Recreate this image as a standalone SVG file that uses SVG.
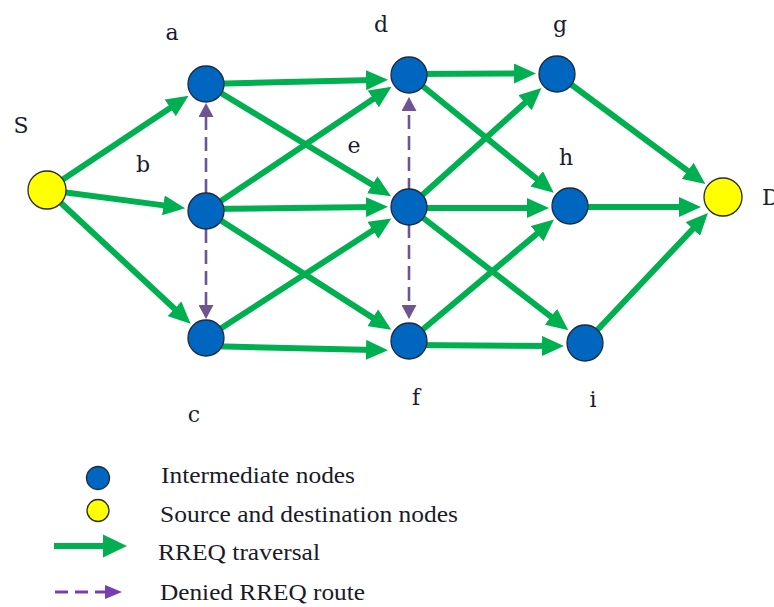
<svg xmlns="http://www.w3.org/2000/svg" width="774" height="607" viewBox="0 0 774 607">
<style>
.bg{fill:#ffffff}
.edge{stroke:#00b050;stroke-width:6;fill:none;marker-end:url(#ag)}
.deny{stroke:#6d5592;stroke-width:2.6;fill:none;stroke-dasharray:14 7;marker-end:url(#ap)}
.inter{fill:#0066bf;stroke:#1b2a3f;stroke-width:1.3}
.srcdst{fill:#ffff00;stroke:#2a2a2a;stroke-width:1.3}
.lbl{font-family:"DejaVu Serif","Liberation Serif",serif;font-size:22px;fill:#1a1a33;text-anchor:middle}
.leg{font-family:"Liberation Serif","Times New Roman",serif;font-size:24px;fill:#1a1a2a}
</style>
<defs>
<marker id="ag" markerUnits="userSpaceOnUse" markerWidth="22" markerHeight="20" viewBox="0 0 22 20" refX="8" refY="10" orient="auto"><path d="M0,0 L22,10 L0,20 z" fill="#00b050"/></marker>
<marker id="ap" markerUnits="userSpaceOnUse" markerWidth="14" markerHeight="15" viewBox="0 0 14 15" refX="9" refY="7.5" orient="auto"><path d="M0,0 L14,7.5 L0,15 z" fill="#6d5592"/></marker>
</defs>
<rect class="bg" x="0" y="0" width="774" height="607"/>
<g id="connectors">
<line class="edge" x1="47" y1="190" x2="176.9" y2="103.4"/>
<line class="edge" x1="47" y1="190" x2="171.3" y2="206.4"/>
<line class="edge" x1="47" y1="190" x2="180.4" y2="314.2"/>
<line class="edge" x1="206" y1="84" x2="374" y2="80"/>
<line class="edge" x1="206" y1="84" x2="379.1" y2="188.9"/>
<line class="edge" x1="206" y1="211" x2="379.9" y2="94.5"/>
<line class="edge" x1="206" y1="209" x2="374" y2="207"/>
<line class="edge" x1="206" y1="211" x2="379.5" y2="322.1"/>
<line class="edge" x1="206" y1="338" x2="379.6" y2="226"/>
<line class="edge" x1="206" y1="346" x2="374" y2="350"/>
<line class="edge" x1="409" y1="74" x2="522" y2="73.5"/>
<line class="edge" x1="409" y1="75" x2="542.9" y2="183.9"/>
<line class="edge" x1="409" y1="207" x2="531" y2="97.4"/>
<line class="edge" x1="409" y1="208" x2="535" y2="208"/>
<line class="edge" x1="409" y1="207" x2="557.3" y2="321.6"/>
<line class="edge" x1="409" y1="341" x2="543.2" y2="228.5"/>
<line class="edge" x1="409" y1="345" x2="550" y2="346"/>
<line class="edge" x1="557" y1="74" x2="694.1" y2="175.6"/>
<line class="edge" x1="570" y1="207" x2="687" y2="207"/>
<line class="edge" x1="585" y1="343" x2="698.3" y2="223.2"/>
<line class="deny" x1="206" y1="193" x2="206" y2="108"/>
<line class="deny" x1="206" y1="229" x2="206" y2="314"/>
<line class="deny" x1="409" y1="192" x2="409" y2="102"/>
<line class="deny" x1="409" y1="224" x2="409" y2="314"/>
</g>
<g id="node-S"><circle class="srcdst" cx="47" cy="190" r="19"/><text class="lbl" x="21" y="133">S</text></g>
<g id="node-a"><circle class="inter" cx="206" cy="84" r="18"/><text class="lbl" x="172" y="40">a</text></g>
<g id="node-b"><circle class="inter" cx="206" cy="211" r="18"/><text class="lbl" x="143" y="172">b</text></g>
<g id="node-c"><circle class="inter" cx="206" cy="338" r="18"/><text class="lbl" x="194" y="422">c</text></g>
<g id="node-d"><circle class="inter" cx="409" cy="75" r="18"/><text class="lbl" x="381" y="32">d</text></g>
<g id="node-e"><circle class="inter" cx="409" cy="207" r="18"/><text class="lbl" x="354" y="153">e</text></g>
<g id="node-f"><circle class="inter" cx="409" cy="341" r="18"/><text class="lbl" x="416" y="405">f</text></g>
<g id="node-g"><circle class="inter" cx="557" cy="74" r="18"/><text class="lbl" x="560" y="32">g</text></g>
<g id="node-h"><circle class="inter" cx="570" cy="206" r="18"/><text class="lbl" x="566" y="165">h</text></g>
<g id="node-i"><circle class="inter" cx="585" cy="343" r="18"/><text class="lbl" x="593" y="407">i</text></g>
<g id="node-D"><circle class="srcdst" cx="723" cy="197" r="19"/><text class="lbl" x="762" y="205" style="text-anchor:start">D</text></g>
<g id="legend">
<circle class="inter" cx="98" cy="478" r="11.5"/>
<text class="leg" x="161" y="483" textLength="194" lengthAdjust="spacingAndGlyphs">Intermediate nodes</text>
<circle class="srcdst" cx="98" cy="510.5" r="11"/>
<text class="leg" x="160" y="522" textLength="298" lengthAdjust="spacingAndGlyphs">Source and destination nodes</text>
<line x1="54" y1="546" x2="106" y2="546" stroke="#00b050" stroke-width="6"/>
<path d="M103,534.5 L127,546 L103,557.5 z" fill="#00b050"/>
<text class="leg" x="158" y="560" textLength="162" lengthAdjust="spacingAndGlyphs">RREQ traversal</text>
<line x1="55" y1="592" x2="108" y2="592" stroke="#7a3cb0" stroke-width="3" stroke-dasharray="13 7"/>
<path d="M105,585 L122,592 L105,599 z" fill="#7a3cb0"/>
<text class="leg" x="160" y="600" textLength="205" lengthAdjust="spacingAndGlyphs">Denied RREQ route</text>
</g>
</svg>
